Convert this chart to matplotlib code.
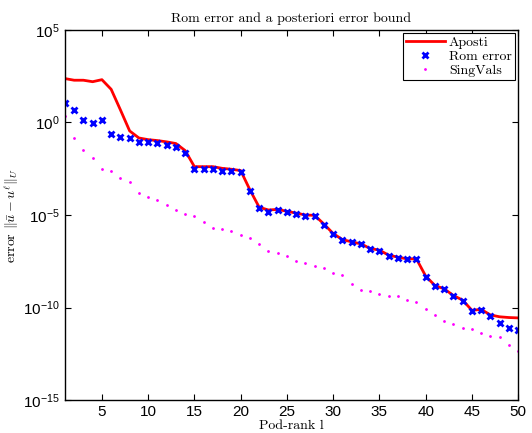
import matplotlib
matplotlib.use('Agg')
import matplotlib.pyplot as plt
import numpy as np

plt.rcParams['font.family'] = ['Liberation Sans', 'DejaVu Sans']
plt.rcParams['mathtext.fontset'] = 'cm'

# Pod-rank 1..50
rank = np.arange(1, 51)

# log10 der Werte
aposti_log = [2.37, 2.28, 2.28, 2.2, 2.31, 1.79, 0.68, -0.46, -0.84, -0.93,
              -0.98, -1.05, -1.14, -1.52, -2.39, -2.39, -2.39, -2.48, -2.53, -2.6,
              -3.64, -4.58, -4.73, -4.7, -4.8, -4.9, -5.0, -5.02, -5.49, -6.0,
              -6.33, -6.45, -6.56, -6.81, -6.9, -7.17, -7.28, -7.37, -7.37, -8.3,
              -8.81, -8.99, -9.35, -9.6, -10.15, -10.1, -10.4, -10.5, -10.54, -10.56]
rom_log = [1.07, 0.68, 0.14, -0.01, 0.14, -0.62, -0.8, -0.84, -1.05, -1.05,
           -1.13, -1.23, -1.31, -1.67, -2.5, -2.5, -2.5, -2.6, -2.6, -2.69,
           -3.69, -4.62, -4.82, -4.75, -4.84, -4.95, -5.04, -5.05, -5.54, -6.04,
           -6.37, -6.48, -6.59, -6.84, -6.93, -7.2, -7.31, -7.4, -7.4, -8.33,
           -8.84, -9.02, -9.38, -9.63, -10.2, -10.15, -10.48, -10.84, -11.12, -11.22]
sing_log = [0.37, -0.84, -1.49, -1.92, -2.5, -2.62, -3.02, -3.23, -3.79, -4.04,
            -4.2, -4.48, -4.75, -4.96, -5.05, -5.36, -5.69, -5.74, -5.85, -6.08,
            -6.23, -6.59, -6.95, -7.05, -7.22, -7.47, -7.61, -7.74, -7.85, -8.12,
            -8.24, -8.75, -9.05, -9.11, -9.29, -9.4, -9.4, -9.58, -9.7, -10.08,
            -10.41, -10.71, -10.87, -11.1, -11.16, -11.4, -11.54, -11.6, -12.03, -12.34]

aposti = 10.0 ** np.array(aposti_log)
rom = 10.0 ** np.array(rom_log)
sing = 10.0 ** np.array(sing_log)

fig = plt.figure(figsize=(5.32, 4.33), dpi=100)
ax = fig.add_axes([0.122, 0.076, 0.852, 0.855])

ax.semilogy(rank, aposti, color='red', lw=2, label='Aposti')
ax.semilogy(rank, rom, 'x', color='blue', ms=4.5, mew=2, label='Rom error')
ax.semilogy(rank, sing, '.', color='magenta', ms=2, label='SingVals')

ax.set_xlim(1, 50)
ax.set_ylim(1e-15, 1e5)
ax.set_xticks(np.arange(5, 51, 5))
ax.set_yticks([1e-15, 1e-10, 1e-5, 1e0, 1e5])
ax.yaxis.set_minor_locator(matplotlib.ticker.NullLocator())
ax.tick_params(direction='in', top=True, right=True, labelsize=11, length=4)
for s in ax.spines.values():
    s.set_linewidth(1.0)

serif = {'family': 'cmr10', 'size': 10}
ax.set_title('Rom error and a posteriori error bound', fontdict=serif, pad=6)
ax.set_xlabel('Pod-rank l', fontdict=serif, labelpad=1)
ax.set_ylabel(r'error $\|\bar{u} - u^{\ell}\|_U$', fontdict=serif, labelpad=2)

leg = ax.legend(loc='upper right', prop={'family': 'cmr10', 'size': 10},
                fancybox=False, edgecolor='black', framealpha=1,
                borderaxespad=0.25, borderpad=0.2, labelspacing=0.1,
                handlelength=2.8, handletextpad=0.3)
leg.get_frame().set_linewidth(0.8)

fig.savefig('out.png', dpi=100)
